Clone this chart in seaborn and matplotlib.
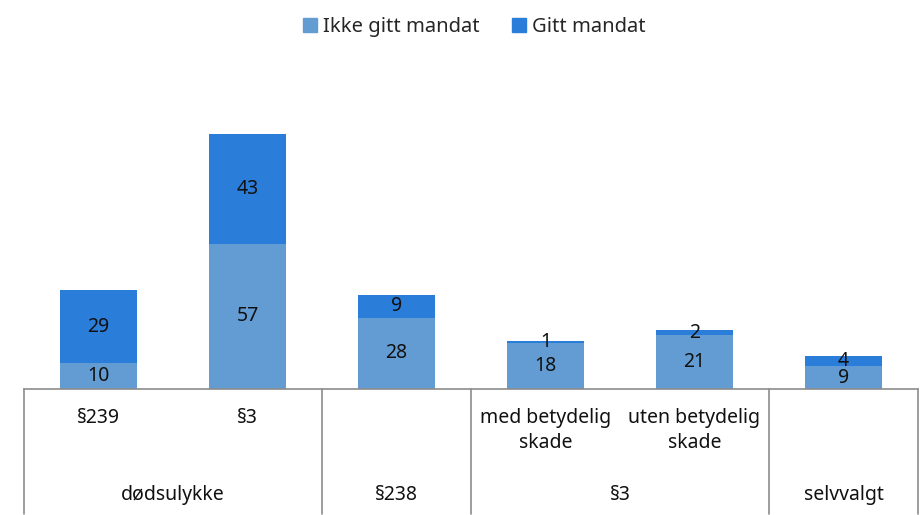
import numpy as np
import matplotlib
matplotlib.use('Agg')
import matplotlib.pyplot as plt
import matplotlib.transforms as mtransforms
from matplotlib.patches import Patch
import seaborn as sns

# data
bars        = ['§239', '§3', '§238', 'med betydelig skade', 'uten betydelig skade', 'selvvalgt']
sub_labels  = ['§239', '§3', '', 'med betydelig\nskade', 'uten betydelig\nskade', '']
ikke_gitt   = [10, 57, 28, 18, 21, 9]
gitt        = [29, 43, 9, 1, 2, 4]
groups      = ['dødsulykke', '§238', '§3', 'selvvalgt']
group_span  = [(0, 1), (2, 2), (3, 4), (5, 5)]

c_light = '#639CD2'
c_dark  = '#2A7DD8'

sns.set_style('white')
plt.rcParams['font.family'] = ['Noto Sans', 'DejaVu Sans']

fig = plt.figure(figsize=(9.23, 5.15), dpi=100)
ax = fig.add_axes([24 / 923, 126 / 515, 894 / 923, 329 / 515])

total = np.array(ikke_gitt) + np.array(gitt)
sns.barplot(x=bars, y=total, color=c_dark, width=0.52, saturation=1,
            linewidth=0, edgecolor='none', ax=ax)
sns.barplot(x=bars, y=ikke_gitt, color=c_light, width=0.52, saturation=1,
            linewidth=0, edgecolor='none', ax=ax)

for i, (a, b) in enumerate(zip(ikke_gitt, gitt)):
    ax.text(i, a / 2, str(a), ha='center', va='center', fontsize=14, color='#111111')
    ax.text(i, a + b / 2, str(b), ha='center', va='center', fontsize=14, color='#111111')

ax.set_xlim(-0.5, len(bars) - 0.5)
ax.set_ylim(0, 129)
ax.set_xticks([])
ax.set_yticks([])
ax.set_xlabel('')
ax.set_ylabel('')
for s in ['top', 'right', 'left']:
    ax.spines[s].set_visible(False)
ax.spines['bottom'].set_color('#8c8c8c')
ax.spines['bottom'].set_linewidth(1.2)

# two-level category axis
trans = mtransforms.blended_transform_factory(ax.transData, ax.transAxes)
for i, lab in enumerate(sub_labels):
    if lab:
        ax.text(i, -0.058, lab, transform=trans, ha='center', va='top',
                fontsize=14, color='#111111', linespacing=1.3)
for g, (s, e) in zip(groups, group_span):
    ax.text((s + e) / 2, -0.322, g, transform=trans, ha='center', va='center',
            fontsize=14, color='#111111')
for xv in [-0.5, 1.5, 2.5, 4.5, 5.5]:
    ax.plot([xv, xv], [0, -0.38], transform=trans, color='#8c8c8c', lw=1.2, clip_on=False)

handles = [Patch(color=c_light, label='Ikke gitt mandat'),
           Patch(color=c_dark, label='Gitt mandat')]
fig.legend(handles=handles, loc='center', bbox_to_anchor=(474 / 923, 1 - 27 / 515),
           ncol=2, frameon=False, fontsize=14.5, handlelength=0.7, handleheight=0.7,
           handletextpad=0.3, columnspacing=1.6)

plt.savefig('out.png', dpi=100)
plt.close()
